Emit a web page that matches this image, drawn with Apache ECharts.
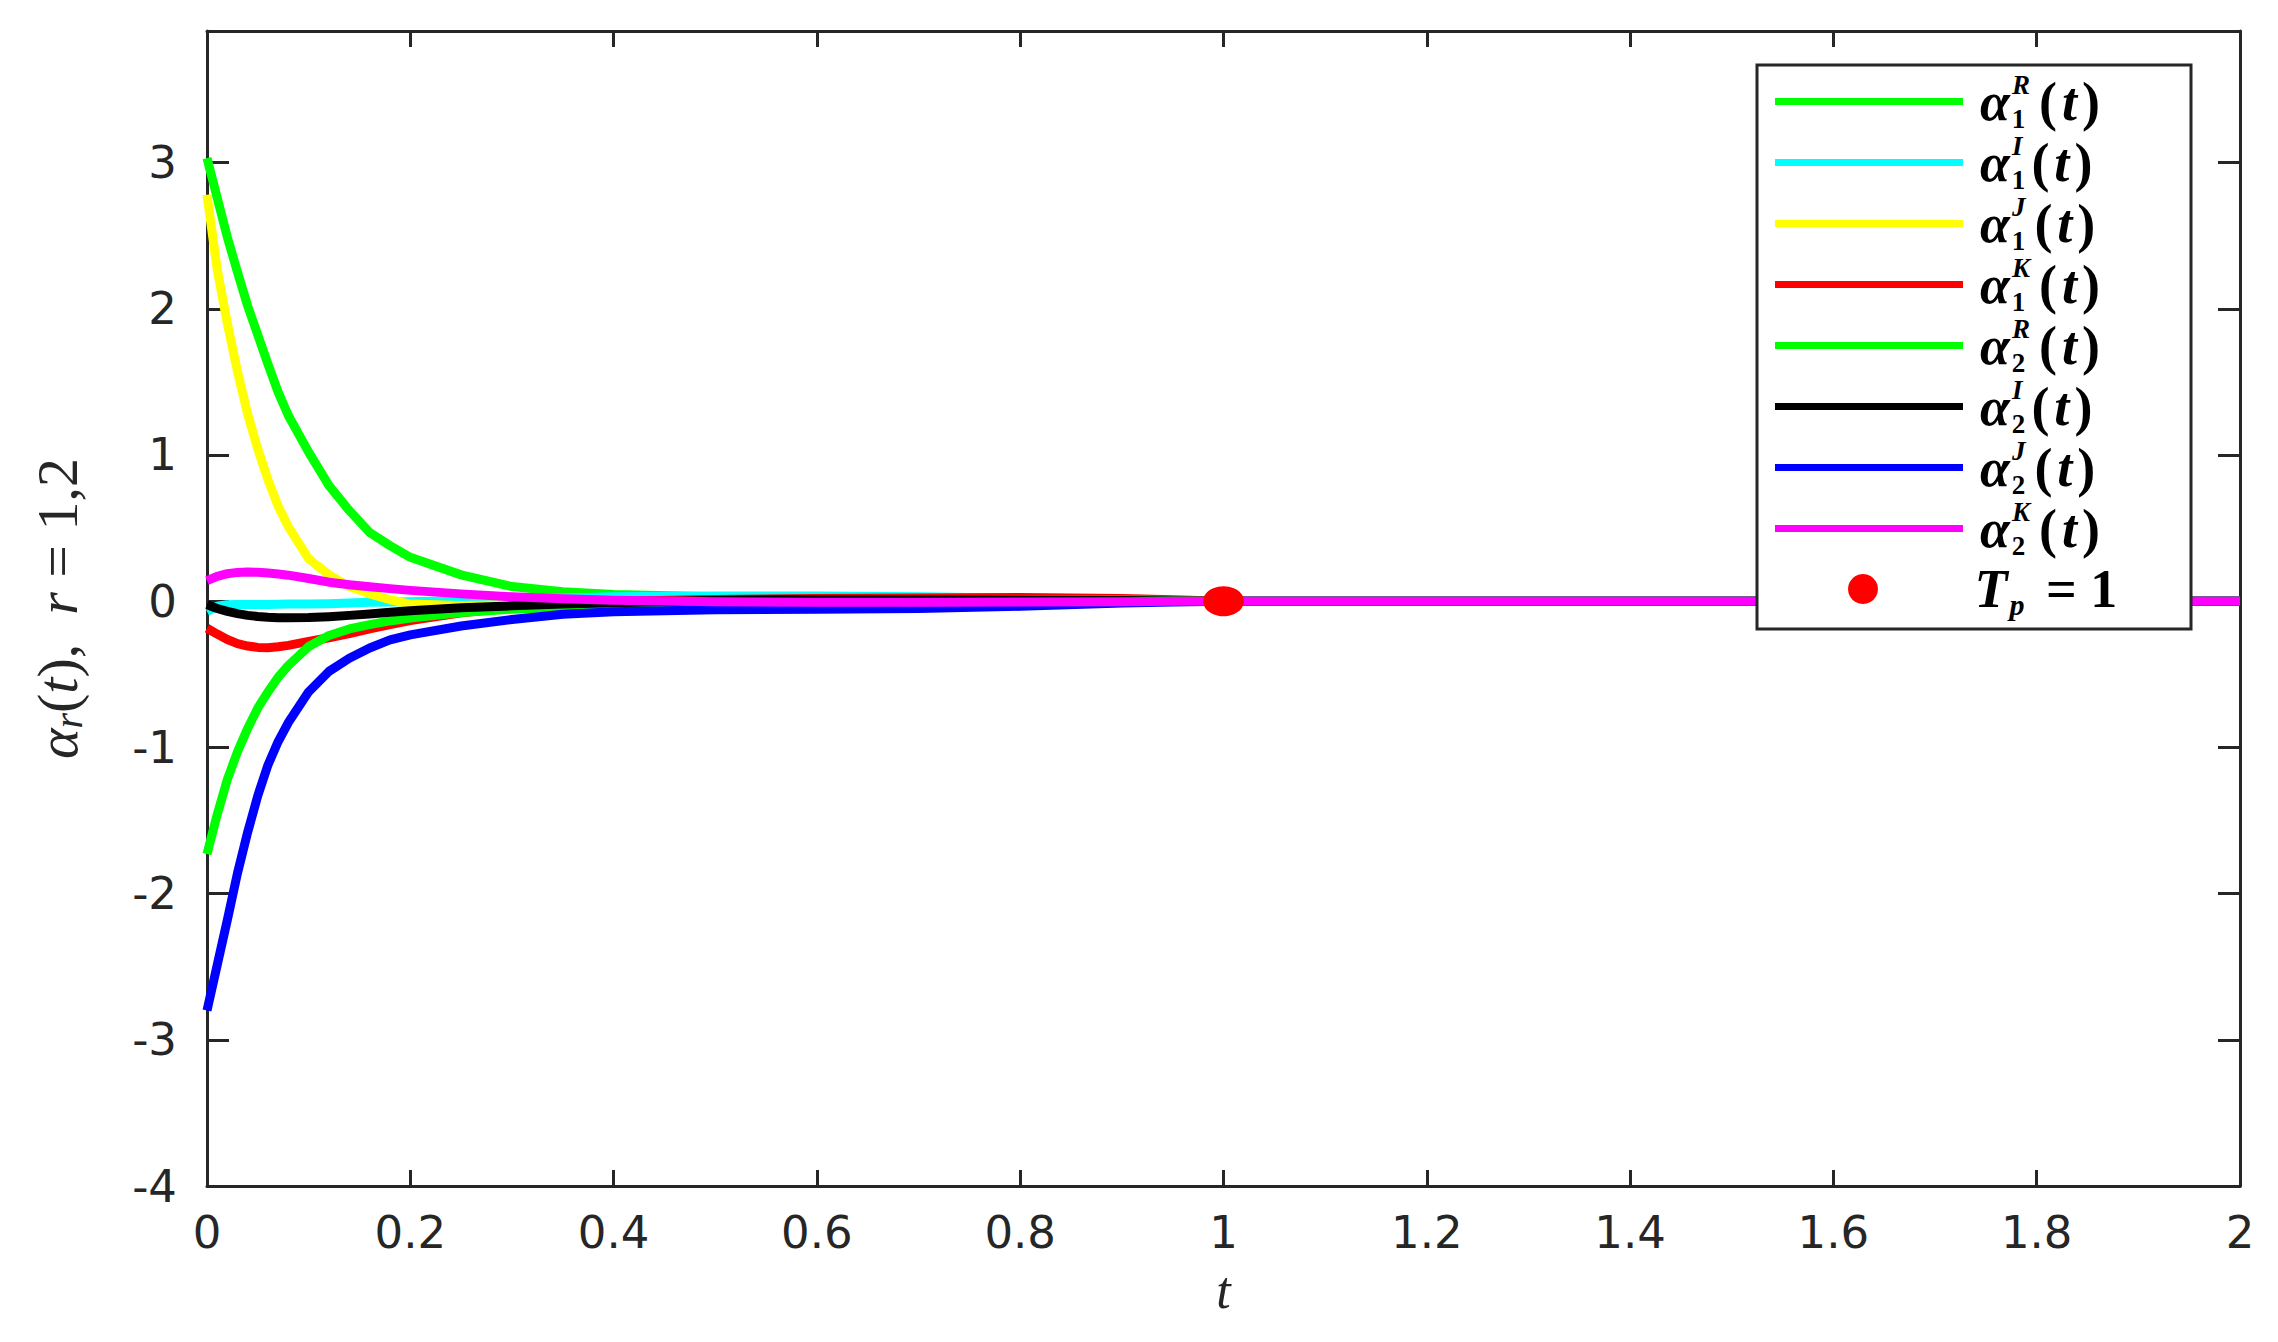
<!DOCTYPE html>
<html>
<head>
<meta charset="utf-8">
<script src="https://cdn.jsdelivr.net/npm/echarts@6/dist/echarts.min.js"></script>
<style>html,body{margin:0;padding:0;background:#fff}#c{width:2278px;height:1342px}</style>
</head>
<body>
<div id="c"></div>
<script>
// ---- data ----
const tValues = [0,0.01,0.02,0.03,0.04,0.05,0.06,0.07,0.08,0.1,0.12,0.14,0.16,0.18,0.2,0.25,0.3,0.35,0.4,0.5,0.6,0.7,0.8,0.9,0.95,1.0,1.5,2.0];
const alpha1R = [3.03,2.76,2.49,2.25,2.02,1.82,1.62,1.43,1.27,1.02,0.79,0.62,0.47,0.38,0.30,0.18,0.10,0.065,0.045,0.03,0.025,0.02,0.015,0.008,0.004,0,0,0];
const alpha1I = [-0.07,-0.035,-0.024,-0.022,-0.022,-0.022,-0.022,-0.021,-0.02,-0.019,-0.017,-0.012,-0.008,-0.005,-0.003,0.005,0.015,0.022,0.03,0.035,0.035,0.03,0.02,0.01,0.005,0,0,0];
const alpha1J = [2.78,2.27,1.90,1.57,1.28,1.04,0.83,0.65,0.51,0.29,0.18,0.10,0.05,0.01,-0.02,-0.03,-0.025,-0.015,-0.005,0.005,0.01,0.01,0.008,0.004,0.002,0,0,0];
const alpha1K = [-0.185,-0.225,-0.262,-0.29,-0.307,-0.316,-0.318,-0.312,-0.302,-0.275,-0.25,-0.222,-0.19,-0.16,-0.132,-0.08,-0.045,-0.02,0.0,0.012,0.018,0.022,0.025,0.018,0.01,0,0,0];
const alpha2R = [-1.73,-1.46,-1.22,-1.03,-0.87,-0.73,-0.62,-0.52,-0.44,-0.31,-0.235,-0.19,-0.16,-0.135,-0.115,-0.078,-0.055,-0.042,-0.03,-0.01,0.0,0.008,0.012,0.008,0.004,0,0,0];
const alpha2I = [-0.025,-0.05,-0.07,-0.085,-0.097,-0.105,-0.11,-0.113,-0.113,-0.112,-0.106,-0.097,-0.087,-0.076,-0.066,-0.045,-0.032,-0.02,-0.01,0.005,0.01,0.01,0.008,0.005,0.002,0,0,0];
const alpha2J = [-2.8,-2.49,-2.18,-1.86,-1.58,-1.33,-1.12,-0.96,-0.83,-0.62,-0.48,-0.39,-0.32,-0.265,-0.23,-0.17,-0.125,-0.09,-0.072,-0.058,-0.055,-0.05,-0.035,-0.012,-0.006,0,0,0];
const alpha2K = [0.14,0.17,0.188,0.197,0.2,0.198,0.193,0.186,0.178,0.155,0.13,0.113,0.099,0.086,0.074,0.05,0.03,0.016,0.007,-0.004,-0.007,-0.007,-0.005,-0.003,-0.001,0,0,0];
const tpPoint = [[1, 0]];
const xTicks = [0,0.2,0.4,0.6,0.8,1,1.2,1.4,1.6,1.8,2];
const yTicks = [-4,-3,-2,-1,0,1,2,3];
const seriesNames = ['a1R','a1I','a1J','a1K','a2R','a2I','a2J','a2K'];
const seriesColors = ['#00ff00','#00ffff','#ffff00','#ff0000','#00ff00','#000000','#0000ff','#ff00ff'];
const seriesValues = [alpha1R,alpha1I,alpha1J,alpha1K,alpha2R,alpha2I,alpha2J,alpha2K];
const legendLabels = {
  a1R: '{g|}{a|α}{sb0|1}{sp|R}{n|(}{t|t}{n|)}',
  a1I: '{g|}{a|α}{sb0|1}{sp|I}{n|(}{t|t}{n|)}',
  a1J: '{g|}{a|α}{sb0|1}{sp|J}{n|(}{t|t}{n|)}',
  a1K: '{g|}{a|α}{sb0|1}{sp|K}{n|(}{t|t}{n|)}',
  a2R: '{g|}{a|α}{sb0|2}{sp|R}{n|(}{t|t}{n|)}',
  a2I: '{g|}{a|α}{sb0|2}{sp|I}{n|(}{t|t}{n|)}',
  a2J: '{g|}{a|α}{sb0|2}{sp|J}{n|(}{t|t}{n|)}',
  a2K: '{g|}{a|α}{sb0|2}{sp|K}{n|(}{t|t}{n|)}',
  Tp:  '{g2|}{a|T}{sbi|p}{n| = 1}'
};

// ---- chart ----
const AX = '#262626';
const SERIF = 'Liberation Serif';
const richLegend = {
  g:   {width: 12},
  g2:  {width: 86},
  a:   {fontFamily: SERIF, fontStyle: 'italic', fontWeight: 'bold', fontSize: 54, lineHeight: 61, color: '#000', padding: [0, 2, 0, 0]},
  t:   {fontFamily: SERIF, fontStyle: 'italic', fontWeight: 'bold', fontSize: 54, lineHeight: 61, color: '#000', padding: [0, 5, 0, 5]},
  n:   {fontFamily: SERIF, fontWeight: 'bold', fontSize: 54, lineHeight: 61, color: '#000'},
  sb0: {fontFamily: SERIF, fontWeight: 'bold', fontSize: 27, width: 0.01, verticalAlign: 'bottom', lineHeight: 30, color: '#000'},
  sbi: {fontFamily: SERIF, fontStyle: 'italic', fontWeight: 'bold', fontSize: 30, verticalAlign: 'bottom', lineHeight: 30, color: '#000', padding: [0, 8, 0, 0]},
  sp:  {fontFamily: SERIF, fontStyle: 'italic', fontWeight: 'bold', fontSize: 27, verticalAlign: 'top', lineHeight: 30, color: '#000', padding: [0, 9, 0, 0]}
};

const chart = echarts.init(document.getElementById('c'), null, {renderer: 'svg'});

const lineSeries = seriesNames.map((nm, i) => ({
  name: nm,
  type: 'line',
  xAxisIndex: 0, yAxisIndex: 0,
  data: tValues.map((t, k) => [t, seriesValues[i][k]]),
  symbol: 'none',
  showSymbol: false,
  smooth: false,
  lineStyle: {color: seriesColors[i], width: 9, cap: 'butt', join: 'round'},
  itemStyle: {color: seriesColors[i]},
  z: 2,
  animation: false
}));

const axisCommonX = {
  type: 'value', min: 0, max: 2, interval: 0.2,
  axisLine: {show: true, onZero: false, lineStyle: {color: AX, width: 3}},
  axisTick: {show: true, inside: true, length: 16, lineStyle: {color: AX, width: 3}},
  splitLine: {show: false}
};
const axisCommonY = {
  type: 'value', min: -4, max: 3.9, interval: 1,
  axisLine: {show: true, onZero: false, lineStyle: {color: AX, width: 3}},
  axisTick: {show: true, inside: true, length: 22, customValues: yTicks, lineStyle: {color: AX, width: 3}},
  splitLine: {show: false}
};

chart.setOption({
  animation: false,
  backgroundColor: '#ffffff',
  grid: {left: 207, right: 38, top: 31, bottom: 156, containLabel: false},
  xAxis: [
    Object.assign({}, axisCommonX, {
      position: 'bottom',
      axisLabel: {show: true, customValues: xTicks, fontFamily: 'DejaVu Sans', fontSize: 45, color: AX, margin: 24},
      name: 't', nameLocation: 'middle', nameGap: 78,
      nameTextStyle: {fontFamily: SERIF, fontStyle: 'italic', fontSize: 52, color: AX}
    }),
    Object.assign({}, axisCommonX, {position: 'top', axisLabel: {show: false}})
  ],
  yAxis: [
    Object.assign({}, axisCommonY, {
      position: 'left',
      axisLabel: {show: true, customValues: yTicks, fontFamily: 'DejaVu Sans', fontSize: 45, color: AX, margin: 30},
      name: '{a|α}{s|r}{p|(}{i|t}{p|),}{i|  r}{p| = 1,2}',
      nameLocation: 'middle', nameRotate: 90, nameGap: 119,
      nameTextStyle: {
        rich: {
          a: {fontFamily: SERIF, fontStyle: 'italic', fontSize: 58, lineHeight: 62, color: AX},
          i: {fontFamily: SERIF, fontStyle: 'italic', fontSize: 58, lineHeight: 62, color: AX},
          p: {fontFamily: SERIF, fontSize: 58, lineHeight: 62, color: AX},
          s: {fontFamily: SERIF, fontStyle: 'italic', fontSize: 40, verticalAlign: 'bottom', lineHeight: 40, color: AX}
        }
      }
    }),
    Object.assign({}, axisCommonY, {position: 'right', axisLabel: {show: false}})
  ],
  legend: [
    {
      orient: 'vertical', left: 1775, top: 71, padding: 0, itemGap: 0,
      itemWidth: 188, itemHeight: 7, selectedMode: false,
      icon: 'rect',
      lineStyle: {width: 7},
      data: seriesNames,
      formatter: nm => legendLabels[nm],
      textStyle: {rich: richLegend},
      z: 6
    },
    {
      orient: 'vertical', left: 1848, top: 562, padding: 0, itemGap: 0,
      itemWidth: 41, itemHeight: 30, selectedMode: false,
      icon: 'circle', symbolKeepAspect: false,
      itemStyle: {opacity: 1},
      data: ['Tp'],
      formatter: nm => legendLabels[nm],
      textStyle: {rich: richLegend},
      z: 6
    }
  ],
  graphic: [
    {
      type: 'rect', z: 5,
      shape: {x: 1757, y: 65, width: 434, height: 564},
      style: {fill: '#ffffff', stroke: AX, lineWidth: 3}
    }
  ],
  series: lineSeries.concat([{
    name: 'Tp',
    type: 'scatter',
    xAxisIndex: 0, yAxisIndex: 0,
    data: tpPoint,
    symbol: 'circle',
    symbolSize: [41, 30],
    itemStyle: {color: '#ff0000', opacity: 1},
    z: 4
  }])
});
</script>
</body>
</html>
